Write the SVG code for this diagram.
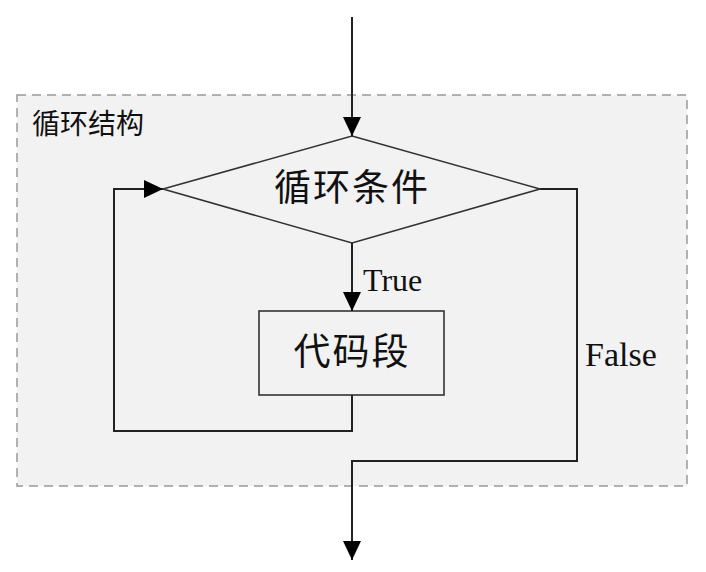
<svg xmlns="http://www.w3.org/2000/svg" width="706" height="572" viewBox="0 0 706 572">
<style>
.cjk{font-family:"Liberation Serif","Noto Sans CJK SC",serif;fill:#111;}
.lbl{font-family:"Liberation Serif",serif;fill:#111;}
.shape{fill:#f2f2f2;stroke:#333;stroke-width:1.6;}
.conn{fill:none;stroke:#222;stroke-width:2;}
</style>
<defs>
<marker id="arr" markerUnits="userSpaceOnUse" markerWidth="19" markerHeight="18" refX="19" refY="9" orient="auto">
<path d="M0,0 L19,9 L0,18 z" fill="#000"/>
</marker>
</defs>
<g id="container">
<rect x="17" y="95" width="670" height="391" fill="#f2f2f2" stroke="#999" stroke-width="1.5" stroke-dasharray="9,6"/>
<text class="cjk" x="32" y="134" font-size="28">循环结构</text>
</g>
<g id="condition">
<polygon class="shape" points="352,136 540,189 352,243 163,189"/>
<text class="cjk" x="352" y="201" font-size="37" text-anchor="middle" letter-spacing="2">循环条件</text>
</g>
<g id="code">
<rect class="shape" x="259" y="311" width="185" height="84"/>
<text class="cjk" x="352" y="365" font-size="37" text-anchor="middle" letter-spacing="2">代码段</text>
</g>
<g id="connectors">
<line class="conn" x1="352" y1="17" x2="352" y2="136" marker-end="url(#arr)"/>
<line class="conn" x1="352" y1="243" x2="352" y2="311" marker-end="url(#arr)"/>
<polyline class="conn" points="352,395 352,431 114,431 114,189 163,189" marker-end="url(#arr)"/>
<polyline class="conn" points="540,189 577,189 577,461 352,461 352,560" marker-end="url(#arr)"/>
<text class="lbl" x="363" y="291" font-size="32">True</text>
<text class="lbl" x="585" y="366" font-size="34">False</text>
</g>
</svg>
